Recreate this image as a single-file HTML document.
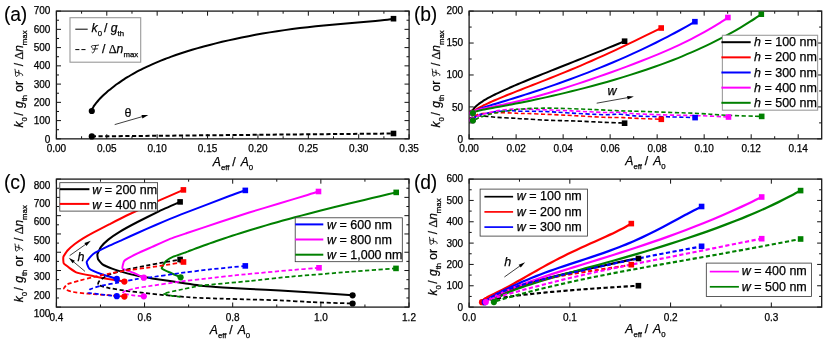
<!DOCTYPE html>
<html><head><meta charset="utf-8"><title>chart</title>
<style>html,body{margin:0;padding:0;background:#fff;}svg{display:block;will-change:transform;}text{font-family:"Liberation Sans",sans-serif;fill:#000;stroke:#000;stroke-width:0.25px;}</style></head><body>
<svg width="830" height="343" viewBox="0 0 830 343">
<rect width="830" height="343" fill="#fff"/>
<path d="M56.4,138.85 v-4.6 M56.4,11.1 v4.6 M106.79,138.85 v-4.6 M106.79,11.1 v4.6 M157.17,138.85 v-4.6 M157.17,11.1 v4.6 M207.56,138.85 v-4.6 M207.56,11.1 v4.6 M257.94,138.85 v-4.6 M257.94,11.1 v4.6 M308.33,138.85 v-4.6 M308.33,11.1 v4.6 M358.71,138.85 v-4.6 M358.71,11.1 v4.6 M409.1,138.85 v-4.6 M409.1,11.1 v4.6 M81.59,138.85 v-2.6 M81.59,11.1 v2.6 M131.98,138.85 v-2.6 M131.98,11.1 v2.6 M182.36,138.85 v-2.6 M182.36,11.1 v2.6 M232.75,138.85 v-2.6 M232.75,11.1 v2.6 M283.14,138.85 v-2.6 M283.14,11.1 v2.6 M333.52,138.85 v-2.6 M333.52,11.1 v2.6 M383.91,138.85 v-2.6 M383.91,11.1 v2.6 M56.4,138.85 h4.6 M409.1,138.85 h-4.6 M56.4,120.6 h4.6 M409.1,120.6 h-4.6 M56.4,102.35 h4.6 M409.1,102.35 h-4.6 M56.4,84.1 h4.6 M409.1,84.1 h-4.6 M56.4,65.85 h4.6 M409.1,65.85 h-4.6 M56.4,47.6 h4.6 M409.1,47.6 h-4.6 M56.4,29.35 h4.6 M409.1,29.35 h-4.6 M56.4,11.1 h4.6 M409.1,11.1 h-4.6 M56.4,129.72 h2.6 M409.1,129.72 h-2.6 M56.4,111.47 h2.6 M409.1,111.47 h-2.6 M56.4,93.22 h2.6 M409.1,93.22 h-2.6 M56.4,74.97 h2.6 M409.1,74.97 h-2.6 M56.4,56.72 h2.6 M409.1,56.72 h-2.6 M56.4,38.47 h2.6 M409.1,38.47 h-2.6 M56.4,20.22 h2.6 M409.1,20.22 h-2.6" stroke="#111" stroke-width="1" fill="none"/>
<rect x="56.4" y="11.1" width="352.7" height="127.75" fill="none" stroke="#1a1a1a" stroke-width="1.3"/>
<text x="56.4" y="151.95" font-size="10" text-anchor="middle">0.00</text>
<text x="106.79" y="151.95" font-size="10" text-anchor="middle">0.05</text>
<text x="157.17" y="151.95" font-size="10" text-anchor="middle">0.10</text>
<text x="207.56" y="151.95" font-size="10" text-anchor="middle">0.15</text>
<text x="257.94" y="151.95" font-size="10" text-anchor="middle">0.20</text>
<text x="308.33" y="151.95" font-size="10" text-anchor="middle">0.25</text>
<text x="358.71" y="151.95" font-size="10" text-anchor="middle">0.30</text>
<text x="409.1" y="151.95" font-size="10" text-anchor="middle">0.35</text>
<text x="50.4" y="142.55" font-size="10" text-anchor="end">0</text>
<text x="50.4" y="124.24" font-size="10" text-anchor="end">100</text>
<text x="50.4" y="105.92" font-size="10" text-anchor="end">200</text>
<text x="50.4" y="87.61" font-size="10" text-anchor="end">300</text>
<text x="50.4" y="69.29" font-size="10" text-anchor="end">400</text>
<text x="50.4" y="50.98" font-size="10" text-anchor="end">500</text>
<text x="50.4" y="32.66" font-size="10" text-anchor="end">600</text>
<text x="50.4" y="14.35" font-size="10" text-anchor="end">700</text>
<path d="M91.8,111 C91.83,110.8 91.88,110.21 92,109.8 C92.11,109.39 92.28,108.98 92.48,108.53 C92.69,108.09 92.93,107.63 93.22,107.15 C93.5,106.66 93.82,106.16 94.18,105.64 C94.53,105.12 94.92,104.57 95.35,104.02 C95.78,103.46 96.24,102.88 96.73,102.29 C97.22,101.7 97.75,101.09 98.3,100.47 C98.86,99.85 99.45,99.21 100.07,98.57 C100.69,97.92 101.34,97.26 102.03,96.59 C102.71,95.92 103.42,95.24 104.16,94.55 C104.9,93.86 105.67,93.16 106.47,92.46 C107.27,91.75 108.1,91.04 108.96,90.33 C109.82,89.61 110.71,88.89 111.62,88.16 C112.54,87.44 113.48,86.71 114.45,85.97 C115.42,85.24 116.42,84.51 117.45,83.78 C118.47,83.04 119.52,82.31 120.6,81.57 C121.68,80.84 122.79,80.1 123.93,79.37 C125.06,78.64 126.22,77.91 127.41,77.18 C128.59,76.45 129.81,75.73 131.05,75.01 C132.29,74.29 133.55,73.57 134.84,72.86 C136.13,72.14 137.45,71.44 138.79,70.73 C140.14,70.03 141.5,69.33 142.9,68.64 C144.29,67.95 145.71,67.26 147.15,66.58 C148.6,65.9 150.07,65.22 151.56,64.56 C153.06,63.89 154.57,63.23 156.12,62.57 C157.66,61.92 159.23,61.27 160.82,60.63 C162.42,59.99 164.03,59.35 165.67,58.72 C167.32,58.1 168.98,57.47 170.67,56.86 C172.36,56.25 174.08,55.64 175.82,55.04 C177.55,54.44 179.32,53.84 181.1,53.25 C182.89,52.67 184.7,52.08 186.53,51.51 C188.36,50.93 190.22,50.37 192.1,49.8 C193.98,49.24 195.89,48.69 197.81,48.14 C199.74,47.59 201.69,47.04 203.67,46.51 C205.64,45.97 207.64,45.44 209.66,44.91 C211.68,44.39 213.72,43.87 215.79,43.36 C217.86,42.84 219.95,42.34 222.06,41.84 C224.17,41.34 226.31,40.84 228.46,40.36 C230.62,39.87 232.8,39.39 235,38.91 C237.21,38.44 239.43,37.97 241.68,37.51 C243.93,37.05 246.2,36.6 248.49,36.16 C250.79,35.71 253.1,35.27 255.44,34.84 C257.78,34.42 260.14,33.99 262.52,33.58 C264.9,33.17 267.31,32.77 269.73,32.37 C272.16,31.98 274.61,31.59 277.08,31.22 C279.55,30.84 282.04,30.48 284.56,30.12 C287.07,29.77 289.61,29.42 292.16,29.09 C294.72,28.75 297.3,28.43 299.9,28.11 C302.5,27.8 305.13,27.49 307.77,27.2 C310.42,26.91 313.08,26.62 315.77,26.35 C318.46,26.07 321.17,25.81 323.9,25.55 C326.63,25.29 329.38,25.04 332.15,24.79 C334.93,24.54 337.72,24.31 340.54,24.07 C343.35,23.83 346.19,23.59 349.05,23.35 C351.91,23.11 354.78,22.88 357.69,22.62 C360.59,22.37 363.51,22.12 366.45,21.85 C369.39,21.57 372.36,21.29 375.34,20.97 C378.33,20.66 381.33,20.33 384.36,19.95 C387.38,19.57 391.98,18.91 393.5,18.7" fill="none" stroke="#000000" stroke-width="2" stroke-linejoin="round"/>
<path d="M91.8,136.4 L393.5,133.5" fill="none" stroke="#000000" stroke-width="2" stroke-linejoin="round" stroke-dasharray="4.2 2.5" stroke-dashoffset="0"/>
<circle cx="91.8" cy="111" r="3.1" fill="#000000"/>
<circle cx="91.8" cy="136.4" r="3.1" fill="#000000"/>
<rect x="390.7" y="15.9" width="5.6" height="5.6" fill="#000000"/>
<rect x="390.7" y="130.7" width="5.6" height="5.6" fill="#000000"/>
<path d="M114.7,124.6 L142.92,116.45" stroke="#000" stroke-width="0.75"/>
<path d="M148.3,114.9 L142.44,118.41 L141.47,115.05 Z" fill="#000"/>
<text x="128.1" y="116.6" font-size="12.5" font-family="Liberation Serif" text-anchor="middle" style="stroke-width:0.1px">&#952;</text>
<rect x="70" y="17.7" width="70.7" height="44.5" fill="#fff" stroke="#999" stroke-width="1.1"/>
<path d="M75.3,29.2 H87.7" stroke="#000" stroke-width="1"/>
<path d="M75.3,49.6 H79.4 M81.4,49.6 H85.5" stroke="#000" stroke-width="1"/>
<text x="91.6" y="32.2" font-size="12.2" xml:space="preserve"><tspan font-style="italic">k</tspan><tspan font-size="7.8" dy="4.0">0</tspan><tspan dy="-4.0" font-size="1">&#8203;</tspan><tspan dx="-1.5"> /</tspan> <tspan font-style="italic">g</tspan><tspan font-size="7.8" dy="4.0">th</tspan><tspan dy="-4.0" font-size="1">&#8203;</tspan></text>
<path transform="translate(90.6,52.9) rotate(0) scale(1.0)" d="M1.7,-4.9 C0.5,-5.5 0.3,-6.9 1.7,-7.2 C3.0,-7.5 5.5,-7.1 8.0,-7.8 M5.1,-7.2 C4.8,-5.4 4.0,-2.4 3.2,-0.9 C2.7,0.1 1.8,0.3 1.3,-0.4 M2.2,-3.7 L6.9,-4.1" fill="none" stroke="#000" stroke-width="0.85" stroke-linecap="round"/>
<text x="98.6" y="52.8" font-size="12.2" xml:space="preserve"> / <tspan font-family="Liberation Serif">&#916;</tspan><tspan font-style="italic">n</tspan><tspan font-size="7.8" dy="4.0">max</tspan><tspan dy="-4.0" font-size="1">&#8203;</tspan></text>
<g transform="translate(22.8,127.6) rotate(-90)">
<text x="0" y="0" font-size="12.0" xml:space="preserve"><tspan font-style="italic">k</tspan><tspan font-size="7.8" dy="4.0">0</tspan><tspan dy="-4.0" font-size="1">&#8203;</tspan><tspan dx="-1.8"> /</tspan> <tspan font-style="italic" dx="1.0">g</tspan><tspan font-size="7.8" dy="4.0">th</tspan><tspan dy="-4.0" font-size="1">&#8203;</tspan><tspan dx="-0.2"> or </tspan></text>
<path transform="translate(50.4,0) rotate(0) scale(1.0)" d="M1.7,-4.9 C0.5,-5.5 0.3,-6.9 1.7,-7.2 C3.0,-7.5 5.5,-7.1 8.0,-7.8 M5.1,-7.2 C4.8,-5.4 4.0,-2.4 3.2,-0.9 C2.7,0.1 1.8,0.3 1.3,-0.4 M2.2,-3.7 L6.9,-4.1" fill="none" stroke="#000" stroke-width="0.85" stroke-linecap="round"/>
<text x="58" y="0" font-size="12.0" xml:space="preserve"> / <tspan font-family="Liberation Serif">&#916;</tspan><tspan font-style="italic">n</tspan><tspan font-size="7.8" dy="4.0">max</tspan><tspan dy="-4.0" font-size="1">&#8203;</tspan></text>
</g>
<text x="233" y="165.6" font-size="12.2" text-anchor="middle" xml:space="preserve"><tspan font-style="italic">A</tspan><tspan font-size="7.8" dy="4.0">eff</tspan><tspan dy="-4.0" font-size="1">&#8203;</tspan><tspan dx="-0.6"> /</tspan> <tspan font-style="italic" dx="1.6">A</tspan><tspan font-size="7.8" dy="4.0">0</tspan><tspan dy="-4.0" font-size="1">&#8203;</tspan></text>
<text x="4" y="20.9" font-size="19.3" letter-spacing="-0.15" style="stroke-width:0.12px">(a)</text>
<path d="M469.1,138.85 v-4.6 M469.1,11.1 v4.6 M516.11,138.85 v-4.6 M516.11,11.1 v4.6 M563.13,138.85 v-4.6 M563.13,11.1 v4.6 M610.14,138.85 v-4.6 M610.14,11.1 v4.6 M657.15,138.85 v-4.6 M657.15,11.1 v4.6 M704.17,138.85 v-4.6 M704.17,11.1 v4.6 M751.18,138.85 v-4.6 M751.18,11.1 v4.6 M798.19,138.85 v-4.6 M798.19,11.1 v4.6 M492.61,138.85 v-2.6 M492.61,11.1 v2.6 M539.62,138.85 v-2.6 M539.62,11.1 v2.6 M586.63,138.85 v-2.6 M586.63,11.1 v2.6 M633.65,138.85 v-2.6 M633.65,11.1 v2.6 M680.66,138.85 v-2.6 M680.66,11.1 v2.6 M727.67,138.85 v-2.6 M727.67,11.1 v2.6 M774.69,138.85 v-2.6 M774.69,11.1 v2.6 M469.1,138.85 h4.6 M821.7,138.85 h-4.6 M469.1,106.91 h4.6 M821.7,106.91 h-4.6 M469.1,74.97 h4.6 M821.7,74.97 h-4.6 M469.1,43.04 h4.6 M821.7,43.04 h-4.6 M469.1,11.1 h4.6 M821.7,11.1 h-4.6 M469.1,122.88 h2.6 M821.7,122.88 h-2.6 M469.1,90.94 h2.6 M821.7,90.94 h-2.6 M469.1,59.01 h2.6 M821.7,59.01 h-2.6 M469.1,27.07 h2.6 M821.7,27.07 h-2.6" stroke="#111" stroke-width="1" fill="none"/>
<rect x="469.1" y="11.1" width="352.6" height="127.75" fill="none" stroke="#1a1a1a" stroke-width="1.3"/>
<text x="469.1" y="151.95" font-size="10" text-anchor="middle">0.00</text>
<text x="516.11" y="151.95" font-size="10" text-anchor="middle">0.02</text>
<text x="563.13" y="151.95" font-size="10" text-anchor="middle">0.04</text>
<text x="610.14" y="151.95" font-size="10" text-anchor="middle">0.06</text>
<text x="657.15" y="151.95" font-size="10" text-anchor="middle">0.08</text>
<text x="704.17" y="151.95" font-size="10" text-anchor="middle">0.10</text>
<text x="751.18" y="151.95" font-size="10" text-anchor="middle">0.12</text>
<text x="798.19" y="151.95" font-size="10" text-anchor="middle">0.14</text>
<text x="463.1" y="142.55" font-size="10" text-anchor="end">0</text>
<text x="463.1" y="110.5" font-size="10" text-anchor="end">50</text>
<text x="463.1" y="78.45" font-size="10" text-anchor="end">100</text>
<text x="463.1" y="46.4" font-size="10" text-anchor="end">150</text>
<text x="463.1" y="14.35" font-size="10" text-anchor="end">200</text>
<path d="M472.3,112.5 C472.32,112.31 472.36,111.74 472.44,111.39 C472.52,111.03 472.64,110.72 472.78,110.39 C472.92,110.05 473.1,109.73 473.3,109.4 C473.5,109.08 473.72,108.75 473.98,108.42 C474.23,108.09 474.5,107.77 474.8,107.44 C475.1,107.11 475.43,106.78 475.78,106.44 C476.12,106.11 476.49,105.78 476.89,105.44 C477.28,105.1 477.7,104.76 478.13,104.42 C478.57,104.08 479.03,103.73 479.51,103.39 C479.99,103.04 480.49,102.69 481.02,102.34 C481.54,101.99 482.08,101.63 482.65,101.28 C483.21,100.92 483.8,100.56 484.4,100.2 C485.01,99.83 485.63,99.47 486.28,99.1 C486.92,98.73 487.59,98.35 488.27,97.98 C488.96,97.6 489.66,97.22 490.38,96.84 C491.11,96.46 491.85,96.08 492.61,95.69 C493.37,95.3 494.16,94.91 494.95,94.51 C495.75,94.11 496.57,93.71 497.41,93.31 C498.25,92.91 499.1,92.5 499.98,92.09 C500.85,91.68 501.74,91.27 502.65,90.85 C503.56,90.43 504.49,90.01 505.44,89.58 C506.39,89.16 507.35,88.73 508.33,88.29 C509.32,87.86 510.32,87.42 511.34,86.98 C512.35,86.54 513.39,86.09 514.44,85.64 C515.5,85.19 516.57,84.73 517.66,84.27 C518.74,83.81 519.85,83.35 520.97,82.88 C522.1,82.41 523.24,81.94 524.4,81.46 C525.55,80.98 526.73,80.5 527.92,80.01 C529.11,79.52 530.32,79.03 531.55,78.53 C532.77,78.03 534.02,77.53 535.27,77.02 C536.53,76.52 537.81,76 539.1,75.48 C540.4,74.96 541.71,74.44 543.03,73.91 C544.36,73.38 545.7,72.85 547.06,72.31 C548.42,71.76 549.8,71.22 551.19,70.67 C552.58,70.11 553.99,69.56 555.41,68.99 C556.84,68.43 558.28,67.86 559.74,67.28 C561.19,66.7 562.67,66.12 564.16,65.53 C565.65,64.94 567.15,64.35 568.67,63.74 C570.2,63.14 571.73,62.53 573.29,61.92 C574.84,61.3 576.41,60.68 578,60.05 C579.58,59.42 581.18,58.78 582.8,58.14 C584.42,57.5 586.05,56.85 587.7,56.19 C589.35,55.53 591.01,54.86 592.69,54.19 C594.37,53.52 596.07,52.84 597.78,52.15 C599.49,51.46 601.21,50.76 602.96,50.06 C604.7,49.35 606.46,48.64 608.23,47.92 C610,47.2 611.79,46.47 613.59,45.73 C615.4,44.99 617.22,44.25 619.05,43.49 C620.89,42.74 623.68,41.58 624.6,41.2" fill="none" stroke="#000000" stroke-width="2" stroke-linejoin="round"/>
<path d="M472.4,112.8 C472.43,112.71 472.47,112.46 472.57,112.29 C472.67,112.11 472.82,111.94 473,111.75 C473.17,111.56 473.39,111.36 473.64,111.16 C473.88,110.95 474.17,110.74 474.48,110.51 C474.79,110.29 475.13,110.05 475.5,109.81 C475.88,109.57 476.28,109.32 476.71,109.06 C477.14,108.8 477.6,108.54 478.09,108.26 C478.57,107.99 479.09,107.71 479.63,107.42 C480.17,107.13 480.74,106.83 481.34,106.52 C481.93,106.22 482.56,105.9 483.21,105.58 C483.85,105.26 484.53,104.94 485.23,104.6 C485.93,104.27 486.65,103.93 487.4,103.58 C488.15,103.23 488.93,102.88 489.73,102.51 C490.53,102.15 491.35,101.78 492.2,101.41 C493.05,101.03 493.92,100.65 494.82,100.27 C495.72,99.88 496.64,99.48 497.58,99.08 C498.52,98.68 499.49,98.28 500.48,97.86 C501.47,97.45 502.49,97.03 503.53,96.6 C504.56,96.18 505.63,95.74 506.71,95.3 C507.79,94.86 508.9,94.42 510.03,93.96 C511.16,93.51 512.31,93.05 513.48,92.58 C514.65,92.12 515.85,91.64 517.07,91.16 C518.29,90.68 519.53,90.19 520.79,89.7 C522.05,89.2 523.34,88.7 524.64,88.19 C525.95,87.67 527.28,87.16 528.63,86.63 C529.98,86.1 531.35,85.57 532.74,85.02 C534.13,84.48 535.55,83.92 536.98,83.36 C538.42,82.8 539.87,82.23 541.35,81.65 C542.83,81.06 544.33,80.47 545.85,79.87 C547.37,79.27 548.91,78.66 550.47,78.04 C552.03,77.42 553.61,76.78 555.21,76.14 C556.82,75.49 558.44,74.84 560.08,74.17 C561.73,73.5 563.39,72.82 565.08,72.13 C566.76,71.44 568.47,70.73 570.19,70.02 C571.92,69.3 573.67,68.57 575.43,67.82 C577.2,67.08 578.98,66.32 580.79,65.55 C582.6,64.77 584.42,63.99 586.27,63.19 C588.12,62.39 589.98,61.57 591.87,60.74 C593.76,59.91 595.66,59.06 597.59,58.2 C599.51,57.34 601.46,56.47 603.43,55.58 C605.39,54.69 607.38,53.78 609.38,52.86 C611.39,51.94 613.41,51 615.45,50.05 C617.5,49.09 619.56,48.13 621.64,47.14 C623.72,46.16 625.83,45.16 627.95,44.15 C630.07,43.14 632.21,42.11 634.37,41.07 C636.53,40.03 638.71,38.98 640.91,37.91 C643.1,36.84 645.32,35.76 647.56,34.67 C649.79,33.58 652.05,32.48 654.32,31.37 C656.6,30.25 660.05,28.56 661.2,28" fill="none" stroke="#ff0000" stroke-width="2" stroke-linejoin="round"/>
<path d="M472.6,113 C472.63,112.91 472.68,112.63 472.8,112.46 C472.92,112.28 473.09,112.12 473.3,111.94 C473.51,111.77 473.77,111.59 474.06,111.41 C474.35,111.23 474.68,111.05 475.05,110.87 C475.41,110.68 475.82,110.49 476.25,110.29 C476.69,110.1 477.17,109.9 477.67,109.69 C478.18,109.49 478.72,109.28 479.3,109.07 C479.87,108.85 480.48,108.63 481.11,108.41 C481.75,108.18 482.42,107.95 483.13,107.72 C483.83,107.48 484.56,107.24 485.32,106.99 C486.09,106.74 486.88,106.49 487.7,106.22 C488.53,105.96 489.38,105.7 490.26,105.42 C491.15,105.14 492.06,104.86 493,104.57 C493.94,104.28 494.91,103.99 495.91,103.68 C496.91,103.38 497.94,103.06 499,102.74 C500.05,102.42 501.14,102.09 502.25,101.75 C503.36,101.42 504.5,101.07 505.67,100.71 C506.83,100.36 508.03,99.99 509.25,99.62 C510.47,99.25 511.72,98.86 513,98.47 C514.27,98.07 515.57,97.67 516.9,97.26 C518.23,96.84 519.59,96.42 520.97,95.98 C522.35,95.55 523.76,95.1 525.2,94.65 C526.63,94.19 528.09,93.72 529.58,93.24 C531.06,92.76 532.58,92.27 534.11,91.77 C535.65,91.26 537.21,90.75 538.8,90.22 C540.39,89.69 542.01,89.15 543.65,88.6 C545.29,88.05 546.95,87.48 548.64,86.9 C550.33,86.32 552.04,85.73 553.78,85.12 C555.52,84.52 557.29,83.9 559.08,83.26 C560.87,82.63 562.68,81.98 564.52,81.31 C566.36,80.65 568.22,79.97 570.11,79.28 C571.99,78.58 573.91,77.87 575.84,77.15 C577.78,76.42 579.74,75.68 581.72,74.92 C583.71,74.16 585.71,73.39 587.75,72.6 C589.78,71.81 591.83,71 593.91,70.17 C595.99,69.34 598.1,68.5 600.22,67.63 C602.35,66.77 604.5,65.89 606.68,64.98 C608.85,64.08 611.05,63.16 613.27,62.22 C615.49,61.27 617.73,60.31 620,59.32 C622.27,58.34 624.56,57.33 626.87,56.3 C629.19,55.27 631.53,54.22 633.89,53.14 C636.25,52.06 638.63,50.96 641.04,49.83 C643.44,48.7 645.87,47.55 648.32,46.37 C650.78,45.19 653.25,43.98 655.75,42.74 C658.25,41.5 660.77,40.24 663.31,38.94 C665.85,37.64 668.42,36.31 671,34.94 C673.59,33.58 676.2,32.19 678.84,30.75 C681.47,29.32 684.12,27.85 686.8,26.34 C689.48,24.83 693.55,22.47 694.9,21.7" fill="none" stroke="#0000ff" stroke-width="2" stroke-linejoin="round"/>
<path d="M472.7,113 C472.74,112.87 472.8,112.47 472.93,112.24 C473.07,112.01 473.27,111.82 473.51,111.62 C473.75,111.43 474.04,111.25 474.37,111.07 C474.71,110.89 475.09,110.72 475.51,110.55 C475.93,110.39 476.39,110.23 476.89,110.07 C477.4,109.91 477.94,109.75 478.52,109.6 C479.11,109.44 479.73,109.29 480.39,109.14 C481.04,108.98 481.74,108.83 482.47,108.67 C483.21,108.52 483.98,108.36 484.78,108.2 C485.59,108.04 486.43,107.87 487.31,107.7 C488.18,107.53 489.09,107.36 490.04,107.18 C490.98,107 491.97,106.81 492.98,106.62 C493.99,106.42 495.04,106.22 496.12,106.01 C497.2,105.8 498.32,105.58 499.46,105.35 C500.61,105.12 501.79,104.88 503,104.62 C504.22,104.37 505.46,104.11 506.74,103.84 C508.01,103.56 509.32,103.27 510.66,102.97 C512,102.67 513.37,102.36 514.77,102.03 C516.18,101.7 517.61,101.36 519.08,101.01 C520.54,100.65 522.03,100.28 523.56,99.9 C525.09,99.51 526.64,99.11 528.23,98.69 C529.82,98.28 531.43,97.85 533.08,97.4 C534.73,96.95 536.4,96.49 538.11,96.01 C539.82,95.53 541.55,95.04 543.32,94.53 C545.08,94.01 546.88,93.49 548.7,92.95 C550.53,92.4 552.38,91.84 554.26,91.27 C556.14,90.69 558.05,90.1 559.99,89.5 C561.93,88.89 563.9,88.27 565.9,87.63 C567.9,86.99 569.92,86.34 571.98,85.67 C574.03,85 576.11,84.32 578.22,83.62 C580.33,82.92 582.47,82.2 584.64,81.47 C586.8,80.74 589,79.99 591.22,79.23 C593.44,78.47 595.69,77.69 597.97,76.9 C600.25,76.11 602.55,75.3 604.89,74.48 C607.22,73.65 609.58,72.81 611.97,71.95 C614.36,71.09 616.77,70.22 619.21,69.33 C621.65,68.43 624.12,67.52 626.62,66.59 C629.11,65.66 631.64,64.71 634.19,63.74 C636.74,62.77 639.31,61.77 641.92,60.75 C644.52,59.73 647.15,58.69 649.81,57.62 C652.46,56.55 655.15,55.45 657.86,54.32 C660.57,53.19 663.3,52.03 666.06,50.83 C668.83,49.62 671.62,48.39 674.43,47.11 C677.25,45.82 680.09,44.5 682.95,43.13 C685.82,41.75 688.71,40.33 691.63,38.84 C694.55,37.36 697.5,35.82 700.47,34.2 C703.44,32.59 706.44,30.91 709.46,29.15 C712.48,27.38 715.53,25.55 718.6,23.6 C721.68,21.66 726.35,18.52 727.9,17.5" fill="none" stroke="#ff00ff" stroke-width="2" stroke-linejoin="round"/>
<path d="M472.9,113.05 C472.94,112.97 473.01,112.73 473.16,112.59 C473.31,112.44 473.54,112.31 473.81,112.17 C474.08,112.03 474.41,111.89 474.79,111.75 C475.17,111.62 475.6,111.48 476.07,111.34 C476.55,111.2 477.07,111.05 477.64,110.91 C478.21,110.76 478.82,110.62 479.48,110.47 C480.14,110.32 480.84,110.17 481.59,110.01 C482.33,109.85 483.12,109.69 483.95,109.53 C484.77,109.36 485.64,109.2 486.55,109.02 C487.46,108.85 488.42,108.67 489.41,108.49 C490.4,108.3 491.43,108.11 492.5,107.92 C493.56,107.72 494.67,107.52 495.82,107.31 C496.96,107.1 498.15,106.88 499.37,106.66 C500.59,106.44 501.85,106.21 503.15,105.97 C504.44,105.73 505.78,105.48 507.15,105.22 C508.52,104.97 509.92,104.7 511.36,104.43 C512.81,104.15 514.29,103.87 515.8,103.58 C517.31,103.28 518.86,102.98 520.45,102.67 C522.03,102.35 523.65,102.03 525.31,101.7 C526.96,101.36 528.65,101.01 530.38,100.66 C532.1,100.3 533.86,99.93 535.65,99.55 C537.45,99.17 539.27,98.78 541.13,98.37 C543,97.97 544.89,97.55 546.82,97.12 C548.75,96.69 550.71,96.24 552.7,95.79 C554.7,95.33 556.73,94.86 558.79,94.38 C560.85,93.89 562.94,93.39 565.07,92.88 C567.2,92.37 569.36,91.84 571.55,91.3 C573.74,90.75 575.97,90.2 578.22,89.62 C580.48,89.05 582.77,88.46 585.09,87.85 C587.41,87.25 589.77,86.62 592.15,85.98 C594.54,85.34 596.95,84.68 599.4,84.01 C601.85,83.33 604.33,82.63 606.84,81.92 C609.35,81.2 611.89,80.47 614.47,79.71 C617.04,78.95 619.65,78.18 622.28,77.37 C624.92,76.57 627.59,75.75 630.29,74.9 C632.98,74.05 635.71,73.17 638.47,72.27 C641.23,71.37 644.02,70.44 646.84,69.48 C649.66,68.52 652.51,67.53 655.4,66.51 C658.28,65.49 661.19,64.44 664.13,63.34 C667.07,62.25 670.05,61.12 673.05,59.95 C676.05,58.78 679.08,57.58 682.14,56.32 C685.21,55.06 688.3,53.77 691.42,52.42 C694.54,51.06 697.69,49.67 700.87,48.21 C704.06,46.75 707.27,45.24 710.51,43.66 C713.75,42.08 717.02,40.44 720.31,38.73 C723.61,37.01 726.94,35.24 730.3,33.37 C733.66,31.51 737.04,29.57 740.46,27.54 C743.87,25.5 747.32,23.39 750.79,21.17 C754.27,18.95 759.55,15.36 761.3,14.2" fill="none" stroke="#008000" stroke-width="2" stroke-linejoin="round"/>
<path d="M472.2,119.6 C472.83,119.03 474.58,116.82 476,116.2 C477.42,115.58 477.28,115.72 480.7,115.9 C484.12,116.08 491.25,116.93 496.5,117.3 C501.75,117.67 508.28,117.87 512.2,118.1 C516.12,118.33 517.37,118.55 520,118.7 C522.63,118.85 524.05,118.77 528,119 C531.95,119.23 538.47,119.83 543.7,120.1 C548.93,120.37 554.15,120.45 559.4,120.6 C564.65,120.75 567.8,120.72 575.2,121 C582.6,121.28 596.33,121.98 603.8,122.3 C611.27,122.62 616.53,122.75 620,122.9 C623.47,123.05 623.83,123.15 624.6,123.2" fill="none" stroke="#000000" stroke-width="1.6" stroke-linejoin="round" stroke-dasharray="4.2 2.5" stroke-dashoffset="0"/>
<path d="M472.4,119.8 C473,119.08 474.62,116.5 476,115.5 C477.38,114.5 477.28,114.27 480.7,113.8 C484.12,113.33 491.25,112.83 496.5,112.7 C501.75,112.57 508.28,112.87 512.2,113 C516.12,113.13 517.37,113.42 520,113.5 C522.63,113.58 524.05,113.38 528,113.5 C531.95,113.62 538.47,113.97 543.7,114.2 C548.93,114.43 554.15,114.65 559.4,114.9 C564.65,115.15 567.8,115.3 575.2,115.7 C582.6,116.1 596.33,117 603.8,117.3 C611.27,117.6 614.37,117.32 620,117.5 C625.63,117.68 630.72,118.1 637.6,118.4 C644.48,118.7 657.35,119.15 661.3,119.3" fill="none" stroke="#ff0000" stroke-width="1.6" stroke-linejoin="round" stroke-dasharray="4.2 2.5" stroke-dashoffset="2.7"/>
<path d="M472.6,120 C473.17,119.42 474.65,117.43 476,116.5 C477.35,115.57 477.28,115.22 480.7,114.4 C484.12,113.58 491.25,112.22 496.5,111.6 C501.75,110.98 508.28,110.77 512.2,110.7 C516.12,110.63 514.75,111.07 520,111.2 C525.25,111.33 535.37,111.2 543.7,111.5 C552.03,111.8 559.98,112.47 570,113 C580.02,113.53 595.47,114.5 603.8,114.7 C612.13,114.9 614.37,113.97 620,114.2 C625.63,114.43 629.03,115.65 637.6,116.1 C646.17,116.55 661.82,116.65 671.4,116.9 C680.98,117.15 691.15,117.48 695.1,117.6" fill="none" stroke="#0000ff" stroke-width="1.6" stroke-linejoin="round" stroke-dasharray="4.2 2.5" stroke-dashoffset="5.4"/>
<path d="M472.7,120.3 C473.25,119.78 474.67,118.1 476,117.2 C477.33,116.3 477.28,115.95 480.7,114.9 C484.12,113.85 491.25,111.87 496.5,110.9 C501.75,109.93 508.28,109.35 512.2,109.1 C516.12,108.85 517.37,109.38 520,109.4 C522.63,109.42 519.67,108.97 528,109.2 C536.33,109.43 557.37,110.25 570,110.8 C582.63,111.35 595.47,112.25 603.8,112.5 C612.13,112.75 614.37,112.07 620,112.3 C625.63,112.53 629.03,113.43 637.6,113.9 C646.17,114.37 661,114.8 671.4,115.1 C681.8,115.4 690.48,115.38 700,115.7 C709.52,116.02 723.75,116.78 728.5,117" fill="none" stroke="#ff00ff" stroke-width="1.6" stroke-linejoin="round" stroke-dasharray="4.2 2.5" stroke-dashoffset="8.1"/>
<path d="M472.9,120.6 C473.5,120.33 475.38,119.52 476.5,119 C477.62,118.48 477.87,118.17 479.6,117.5 C481.33,116.83 484.47,115.73 486.9,115 C489.33,114.27 491.77,113.65 494.2,113.1 C496.63,112.55 499.07,112.12 501.5,111.7 C503.93,111.28 506.37,110.97 508.8,110.6 C511.23,110.23 513.4,109.82 516.1,109.5 C518.8,109.18 521.02,108.92 525,108.7 C528.98,108.48 534.27,108.27 540,108.2 C545.73,108.13 550.23,108.07 559.4,108.3 C568.57,108.53 584.9,109.18 595,109.6 C605.1,110.02 612.9,110.52 620,110.8 C627.1,111.08 629.03,111.02 637.6,111.3 C646.17,111.58 661,112.13 671.4,112.5 C681.8,112.87 690.88,113.03 700,113.5 C709.12,113.97 715.82,114.82 726.1,115.3 C736.38,115.78 755.77,116.22 761.7,116.4" fill="none" stroke="#008000" stroke-width="1.6" stroke-linejoin="round" stroke-dasharray="4.2 2.5" stroke-dashoffset="10.8"/>
<circle cx="472.3" cy="112.5" r="3.1" fill="#000000"/>
<circle cx="472.2" cy="119.6" r="3.1" fill="#000000"/>
<rect x="621.8" y="38.4" width="5.6" height="5.6" fill="#000000"/>
<rect x="621.8" y="120.4" width="5.6" height="5.6" fill="#000000"/>
<circle cx="472.4" cy="112.8" r="3.1" fill="#ff0000"/>
<circle cx="472.4" cy="119.8" r="3.1" fill="#ff0000"/>
<rect x="658.4" y="25.2" width="5.6" height="5.6" fill="#ff0000"/>
<rect x="658.5" y="116.5" width="5.6" height="5.6" fill="#ff0000"/>
<circle cx="472.6" cy="113" r="3.1" fill="#0000ff"/>
<circle cx="472.6" cy="120" r="3.1" fill="#0000ff"/>
<rect x="692.1" y="18.9" width="5.6" height="5.6" fill="#0000ff"/>
<rect x="692.3" y="114.8" width="5.6" height="5.6" fill="#0000ff"/>
<circle cx="472.7" cy="113" r="3.1" fill="#ff00ff"/>
<circle cx="472.7" cy="120.3" r="3.1" fill="#ff00ff"/>
<rect x="725.1" y="14.7" width="5.6" height="5.6" fill="#ff00ff"/>
<rect x="725.7" y="114.2" width="5.6" height="5.6" fill="#ff00ff"/>
<circle cx="472.9" cy="113.05" r="3.1" fill="#008000"/>
<circle cx="472.9" cy="120.6" r="3.1" fill="#008000"/>
<rect x="758.5" y="11.4" width="5.6" height="5.6" fill="#008000"/>
<rect x="758.9" y="113.6" width="5.6" height="5.6" fill="#008000"/>
<path d="M596.7,103.2 L628.39,97.49" stroke="#000" stroke-width="0.75"/>
<path d="M633.9,96.5 L627.71,99.39 L627.09,95.95 Z" fill="#000"/>
<text x="612" y="95.3" font-size="12.5" font-style="italic" text-anchor="middle">w</text>
<rect x="722.4" y="35.3" width="95.2" height="74.9" fill="#fff" stroke="#a0a0a0" stroke-width="1.15"/>
<path d="M721.4,42.2 H750.7" stroke="#000000" stroke-width="2.0"/>
<text x="754" y="46.3" font-size="12.5" xml:space="preserve"><tspan font-style="italic">h</tspan> = 100 nm</text>
<path d="M721.4,57.35 H750.7" stroke="#ff0000" stroke-width="2.0"/>
<text x="754" y="61.45" font-size="12.5" xml:space="preserve"><tspan font-style="italic">h</tspan> = 200 nm</text>
<path d="M721.4,72.5 H750.7" stroke="#0000ff" stroke-width="2.0"/>
<text x="754" y="76.6" font-size="12.5" xml:space="preserve"><tspan font-style="italic">h</tspan> = 300 nm</text>
<path d="M721.4,87.65 H750.7" stroke="#ff00ff" stroke-width="2.0"/>
<text x="754" y="91.75" font-size="12.5" xml:space="preserve"><tspan font-style="italic">h</tspan> = 400 nm</text>
<path d="M721.4,102.8 H750.7" stroke="#008000" stroke-width="2.0"/>
<text x="754" y="106.9" font-size="12.5" xml:space="preserve"><tspan font-style="italic">h</tspan> = 500 nm</text>
<g transform="translate(440,127.4) rotate(-90)">
<text x="0" y="0" font-size="12.0" xml:space="preserve"><tspan font-style="italic">k</tspan><tspan font-size="7.8" dy="4.0">0</tspan><tspan dy="-4.0" font-size="1">&#8203;</tspan><tspan dx="-1.8"> /</tspan> <tspan font-style="italic" dx="1.0">g</tspan><tspan font-size="7.8" dy="4.0">th</tspan><tspan dy="-4.0" font-size="1">&#8203;</tspan><tspan dx="-0.2"> or </tspan></text>
<path transform="translate(50.4,0) rotate(0) scale(1.0)" d="M1.7,-4.9 C0.5,-5.5 0.3,-6.9 1.7,-7.2 C3.0,-7.5 5.5,-7.1 8.0,-7.8 M5.1,-7.2 C4.8,-5.4 4.0,-2.4 3.2,-0.9 C2.7,0.1 1.8,0.3 1.3,-0.4 M2.2,-3.7 L6.9,-4.1" fill="none" stroke="#000" stroke-width="0.85" stroke-linecap="round"/>
<text x="58" y="0" font-size="12.0" xml:space="preserve"> / <tspan font-family="Liberation Serif">&#916;</tspan><tspan font-style="italic">n</tspan><tspan font-size="7.8" dy="4.0">max</tspan><tspan dy="-4.0" font-size="1">&#8203;</tspan></text>
</g>
<text x="645.5" y="164.8" font-size="12.2" text-anchor="middle" xml:space="preserve"><tspan font-style="italic">A</tspan><tspan font-size="7.8" dy="4.0">eff</tspan><tspan dy="-4.0" font-size="1">&#8203;</tspan><tspan dx="-0.6"> /</tspan> <tspan font-style="italic" dx="1.6">A</tspan><tspan font-size="7.8" dy="4.0">0</tspan><tspan dy="-4.0" font-size="1">&#8203;</tspan></text>
<text x="414" y="20.9" font-size="19.3" letter-spacing="-0.15" style="stroke-width:0.12px">(b)</text>
<path d="M56.4,307.1 v-4.6 M56.4,179.1 v4.6 M144.55,307.1 v-4.6 M144.55,179.1 v4.6 M232.7,307.1 v-4.6 M232.7,179.1 v4.6 M320.85,307.1 v-4.6 M320.85,179.1 v4.6 M409,307.1 v-4.6 M409,179.1 v4.6 M100.47,307.1 v-2.6 M100.47,179.1 v2.6 M188.62,307.1 v-2.6 M188.62,179.1 v2.6 M276.78,307.1 v-2.6 M276.78,179.1 v2.6 M364.93,307.1 v-2.6 M364.93,179.1 v2.6 M56.4,307.1 h4.6 M409,307.1 h-4.6 M56.4,288.81 h4.6 M409,288.81 h-4.6 M56.4,270.53 h4.6 M409,270.53 h-4.6 M56.4,252.24 h4.6 M409,252.24 h-4.6 M56.4,233.96 h4.6 M409,233.96 h-4.6 M56.4,215.67 h4.6 M409,215.67 h-4.6 M56.4,197.39 h4.6 M409,197.39 h-4.6 M56.4,179.1 h4.6 M409,179.1 h-4.6 M56.4,297.96 h2.6 M409,297.96 h-2.6 M56.4,279.67 h2.6 M409,279.67 h-2.6 M56.4,261.39 h2.6 M409,261.39 h-2.6 M56.4,243.1 h2.6 M409,243.1 h-2.6 M56.4,224.81 h2.6 M409,224.81 h-2.6 M56.4,206.53 h2.6 M409,206.53 h-2.6 M56.4,188.24 h2.6 M409,188.24 h-2.6" stroke="#111" stroke-width="1" fill="none"/>
<rect x="56.4" y="179.1" width="352.6" height="128" fill="none" stroke="#1a1a1a" stroke-width="1.3"/>
<text x="56.4" y="320.5" font-size="10" text-anchor="middle">0.4</text>
<text x="144.55" y="320.5" font-size="10" text-anchor="middle">0.6</text>
<text x="232.7" y="320.5" font-size="10" text-anchor="middle">0.8</text>
<text x="320.85" y="320.5" font-size="10" text-anchor="middle">1.0</text>
<text x="409" y="320.5" font-size="10" text-anchor="middle">1.2</text>
<text x="50.4" y="317.1" font-size="10" text-anchor="end">100</text>
<text x="50.4" y="298.75" font-size="10" text-anchor="end">200</text>
<text x="50.4" y="280.4" font-size="10" text-anchor="end">300</text>
<text x="50.4" y="262.05" font-size="10" text-anchor="end">400</text>
<text x="50.4" y="243.7" font-size="10" text-anchor="end">500</text>
<text x="50.4" y="225.35" font-size="10" text-anchor="end">600</text>
<text x="50.4" y="207" font-size="10" text-anchor="end">700</text>
<text x="50.4" y="188.65" font-size="10" text-anchor="end">800</text>
<path d="M180.1,201.9 C178.86,202.45 161.96,209.89 159.4,211.1 C156.84,212.31 139.86,220.77 137.5,222 C135.14,223.23 121.75,230.54 120,231.6 C118.25,232.66 109.44,238.68 108.3,239.6 C107.16,240.52 101.65,246.02 101,246.9 C100.35,247.78 97.57,253.46 97.4,254.2 C97.23,254.94 97.79,258.69 98.1,259.3 C98.41,259.91 101.62,263.82 102.5,264.4 C103.38,264.98 111.48,268.44 112.7,268.9 C113.92,269.36 121.41,271.69 122.9,272.1 C124.39,272.51 135.75,275.42 137.5,275.8 C139.25,276.18 150.15,278.09 152.1,278.4 C154.05,278.71 168.37,280.76 170,281 C171.63,281.24 177.17,282.1 179.2,282.4 C181.23,282.7 201.28,285.7 203.9,286 C206.52,286.3 220.13,287.22 222.9,287.4 C225.67,287.58 246.57,288.82 250,289 C253.43,289.18 273.84,290.02 280,290.4 C286.16,290.78 348.24,295.01 352.6,295.3" fill="none" stroke="#000000" stroke-width="2" stroke-linejoin="round"/>
<path d="M183.4,189.9 C181.85,190.58 161.01,199.66 157.6,201.2 C154.19,202.74 129.51,214.11 126.6,215.5 C123.69,216.89 111.07,223.39 109.1,224.4 C107.13,225.41 95.24,231.48 93.7,232.3 C92.16,233.12 84.63,237.4 83.5,238.1 C82.37,238.8 75.76,243.26 74.8,244 C73.84,244.74 68.18,249.73 67.5,250.5 C66.82,251.27 63.62,256.01 63.4,256.8 C63.18,257.59 63.13,262.77 63.9,263.7 C64.67,264.63 74.41,271.55 76.2,272.3 C77.99,273.05 91.77,275.79 93.7,276.2 C95.63,276.61 106.46,278.78 108.3,279.1 C110.14,279.42 123.43,281.45 124.4,281.6" fill="none" stroke="#ff0000" stroke-width="2" stroke-linejoin="round"/>
<path d="M245.3,190.4 C244.38,190.72 233.85,194.36 230,195.8 C226.15,197.24 185.66,212.65 181.2,214.4 C176.74,216.15 158.32,223.88 155.7,225 C153.08,226.12 139.47,232.12 137.5,233 C135.53,233.88 124.65,238.81 122.9,239.6 C121.15,240.39 109.96,245.31 108.3,246.1 C106.64,246.89 96.25,252.08 95.2,252.7 C94.15,253.32 91.31,255.83 90.8,256.4 C90.29,256.97 86.78,261.46 86.7,262.2 C86.62,262.94 88.54,268.09 89.4,268.8 C90.26,269.51 99.36,273.39 101,274 C102.64,274.61 115.85,278.61 116.8,278.9" fill="none" stroke="#0000ff" stroke-width="2" stroke-linejoin="round"/>
<path d="M318.5,191.5 C317.84,191.71 309.91,194.27 307.5,195 C305.09,195.73 281.8,202.65 278.3,203.7 C274.8,204.75 252.7,211.4 249.2,212.5 C245.7,213.6 223.77,220.75 220,222 C216.23,223.25 189.3,232.29 186.3,233.3 C183.3,234.31 172.05,238.08 170,238.9 C167.95,239.72 154.05,246.03 152.1,246.9 C150.15,247.77 139.16,252.57 137.5,253.4 C135.84,254.23 125.3,259.79 124.4,260.7 C123.5,261.61 121.98,267.79 122.5,268.5 C123.02,269.21 131.82,272.05 133.1,272.6 C134.38,273.15 143.16,277.39 143.8,277.7" fill="none" stroke="#ff00ff" stroke-width="2" stroke-linejoin="round"/>
<path d="M396.2,192.39 C395.23,192.62 381.87,195.76 379.96,196.21 C378.05,196.66 366.14,199.47 364.3,199.91 C362.46,200.35 351,203.09 349.22,203.52 C347.45,203.95 336.44,206.64 334.74,207.06 C333.04,207.48 322.48,210.11 320.85,210.52 C319.22,210.94 309.13,213.53 307.57,213.93 C306.01,214.34 296.38,216.89 294.9,217.28 C293.42,217.68 284.26,220.18 282.85,220.57 C281.44,220.97 272.75,223.42 271.42,223.8 C270.09,224.18 261.88,226.58 260.63,226.95 C259.37,227.32 251.66,229.65 250.48,230.01 C249.3,230.37 242.09,232.62 240.99,232.97 C239.89,233.32 233.18,235.47 232.16,235.81 C231.14,236.14 224.95,238.19 224.01,238.5 C223.08,238.82 217.41,240.75 216.56,241.04 C215.71,241.34 210.58,243.13 209.82,243.4 C209.05,243.67 204.48,245.31 203.8,245.55 C203.13,245.79 199.13,247.26 198.54,247.47 C197.96,247.69 194.55,248.96 194.06,249.14 C193.57,249.32 190.79,250.38 190.4,250.52 C190.01,250.67 187.88,251.49 187.6,251.6 C187.32,251.7 185.9,252.25 185.75,252.31 C185.59,252.37 185.75,252.34 185,252.6 C184.25,252.86 174.45,256.18 173.3,256.7 C172.15,257.22 166.5,260.6 165.8,261.3 C165.1,262 161.39,267.6 161.7,268.3 C162.01,269 169.87,272.46 171,273 C172.13,273.54 180.02,277.04 180.6,277.3" fill="none" stroke="#008000" stroke-width="2" stroke-linejoin="round"/>
<path d="M180.1,259.5 C179.12,259.67 165.82,262.01 163.7,262.4 C161.58,262.79 147.07,265.56 144.8,266 C142.53,266.44 127.99,269.17 125.8,269.7 C123.61,270.23 109.87,274.15 108.3,274.8 C106.73,275.45 100.21,279.99 99.6,280.6 C98.99,281.21 97.58,284.56 98.1,285 C98.62,285.44 106.64,287.55 108.3,287.9 C109.96,288.25 123.61,290.49 125.8,290.8 C127.99,291.11 142.47,292.74 144.8,293 C147.13,293.26 161.67,294.82 164.6,295.1 C167.53,295.38 190.2,297.38 193.7,297.6 C197.2,297.82 219.52,298.59 222.9,298.7 C226.28,298.81 246.57,299.4 250,299.5 C253.43,299.6 276.24,300.14 280,300.3 C283.76,300.46 308.24,302.01 312.6,302.2 C316.96,302.39 350.2,303.42 352.6,303.5" fill="none" stroke="#000000" stroke-width="1.75" stroke-linejoin="round" stroke-dasharray="4.2 2.5" stroke-dashoffset="3.3"/>
<path d="M183.5,262 C182.37,262.19 166.61,264.88 164.6,265.2 C162.59,265.52 152.33,267.08 150,267.4 C147.67,267.72 128.3,270.12 125.8,270.5 C123.3,270.88 110.23,273.41 108.3,273.8 C106.37,274.19 95.45,276.59 93.7,277 C91.95,277.41 80.77,280.17 79.2,280.6 C77.63,281.03 68.42,283.72 67.5,284.2 C66.58,284.68 63.64,288.14 63.9,288.6 C64.16,289.06 70.46,291.49 71.9,291.8 C73.34,292.11 85.72,293.5 87.9,293.7 C90.08,293.9 106.11,295.03 108.3,295.2 C110.49,295.37 123.43,296.52 124.4,296.6" fill="none" stroke="#ff0000" stroke-width="1.75" stroke-linejoin="round" stroke-dasharray="4.2 2.5" stroke-dashoffset="0"/>
<path d="M245.3,265.9 C243.08,266.12 212.27,269.16 208.3,269.6 C204.33,270.04 182.7,272.73 179.2,273.2 C175.7,273.67 152.5,277.06 150,277.4 C147.5,277.74 139.49,278.58 137.5,278.9 C135.51,279.22 118.99,282.39 116.8,282.8 C114.61,283.21 102.6,285.31 101,285.7 C99.4,286.09 90.87,288.88 90.1,289.3 C89.33,289.72 87.55,292.39 88.2,292.7 C88.85,293.01 99.28,294.29 101,294.5 C102.72,294.71 115.85,296.1 116.8,296.2" fill="none" stroke="#0000ff" stroke-width="1.75" stroke-linejoin="round" stroke-dasharray="4.2 2.5" stroke-dashoffset="0"/>
<path d="M319,267.8 C317.26,267.94 294.64,269.79 290,270.2 C285.36,270.61 246.5,274.21 241.6,274.7 C236.7,275.19 212.04,277.88 208.3,278.3 C204.56,278.72 182.57,281.26 179.2,281.7 C175.83,282.14 154.6,285.33 152.1,285.7 C149.6,286.07 139.08,287.59 137.5,287.9 C135.92,288.21 126.7,290.48 125.8,290.8 C124.9,291.12 122.15,292.94 122.5,293.2 C122.85,293.46 130.42,295.01 131.7,295.2 C132.98,295.39 143.07,296.23 143.8,296.3" fill="none" stroke="#ff00ff" stroke-width="1.75" stroke-linejoin="round" stroke-dasharray="4.2 2.5" stroke-dashoffset="0"/>
<path d="M396,268.4 C392.96,268.63 351.66,271.7 345.3,272.2 C338.94,272.7 295.72,276.17 290,276.7 C284.28,277.23 255.34,280.47 250,281 C244.66,281.53 205.25,285.06 201,285.6 C196.75,286.14 181.46,289.52 179.2,290 C176.94,290.48 163.84,293.25 163.4,293.6 C162.96,293.95 170.88,295.6 171.9,295.8 C172.92,296 179.89,296.83 180.4,296.9" fill="none" stroke="#008000" stroke-width="1.75" stroke-linejoin="round" stroke-dasharray="4.2 2.5" stroke-dashoffset="0"/>
<rect x="177.3" y="199.1" width="5.6" height="5.6" fill="#000000"/>
<rect x="177.3" y="256.7" width="5.6" height="5.6" fill="#000000"/>
<circle cx="352.6" cy="295.3" r="3.1" fill="#000000"/>
<circle cx="352.6" cy="303.5" r="3.1" fill="#000000"/>
<rect x="180.6" y="187.1" width="5.6" height="5.6" fill="#ff0000"/>
<rect x="180.7" y="259.2" width="5.6" height="5.6" fill="#ff0000"/>
<circle cx="124.4" cy="281.6" r="3.1" fill="#ff0000"/>
<circle cx="124.4" cy="296.6" r="3.1" fill="#ff0000"/>
<rect x="242.5" y="187.6" width="5.6" height="5.6" fill="#0000ff"/>
<rect x="242.5" y="263.1" width="5.6" height="5.6" fill="#0000ff"/>
<circle cx="116.8" cy="278.9" r="3.1" fill="#0000ff"/>
<circle cx="116.8" cy="296.2" r="3.1" fill="#0000ff"/>
<rect x="315.7" y="188.7" width="5.6" height="5.6" fill="#ff00ff"/>
<rect x="316.2" y="265" width="5.6" height="5.6" fill="#ff00ff"/>
<circle cx="143.8" cy="277.7" r="3.1" fill="#ff00ff"/>
<circle cx="143.8" cy="296.3" r="3.1" fill="#ff00ff"/>
<rect x="393.4" y="189.59" width="5.6" height="5.6" fill="#008000"/>
<rect x="393.2" y="265.6" width="5.6" height="5.6" fill="#008000"/>
<circle cx="180.6" cy="277.3" r="3.1" fill="#008000"/>
<path d="M69.7,255.6 L86.23,243.93" stroke="#000" stroke-width="0.75"/>
<path d="M90.8,240.7 L86.42,245.94 L84.4,243.08 Z" fill="#000"/>
<path d="M85,271.4 L73,261.39" stroke="#000" stroke-width="0.75"/>
<path d="M68.7,257.8 L74.89,260.68 L72.65,263.37 Z" fill="#000"/>
<text x="81" y="260.6" font-size="12.5" font-style="italic" text-anchor="middle">h</text>
<rect x="59.8" y="182.7" width="97.8" height="28.4" fill="#fff" stroke="#333" stroke-width="0.8"/>
<path d="M59.8,189.2 H89.4" stroke="#000000" stroke-width="2.0"/>
<text x="92.2" y="193.6" font-size="12.5" xml:space="preserve"><tspan font-style="italic">w</tspan> = 200 nm</text>
<path d="M59.8,203.9 H89.4" stroke="#ff0000" stroke-width="2.0"/>
<text x="92.2" y="208.8" font-size="12.5" xml:space="preserve"><tspan font-style="italic">w</tspan> = 400 nm</text>
<rect x="295.2" y="217.8" width="107.1" height="43.9" fill="#fff" stroke="#333" stroke-width="0.8"/>
<path d="M295.2,224.4 H323.3" stroke="#0000ff" stroke-width="2.0"/>
<text x="327" y="228.6" font-size="12.5" xml:space="preserve"><tspan font-style="italic">w</tspan> = 600 nm</text>
<path d="M295.2,239.5 H323.3" stroke="#ff00ff" stroke-width="2.0"/>
<text x="327" y="243.7" font-size="12.5" xml:space="preserve"><tspan font-style="italic">w</tspan> = 800 nm</text>
<path d="M295.2,254.7 H323.3" stroke="#008000" stroke-width="2.0"/>
<text x="327" y="258.9" font-size="12.5" xml:space="preserve"><tspan font-style="italic">w</tspan> = 1,000 nm</text>
<g transform="translate(22.8,302.3) rotate(-90)">
<text x="0" y="0" font-size="12.0" xml:space="preserve"><tspan font-style="italic">k</tspan><tspan font-size="7.8" dy="4.0">0</tspan><tspan dy="-4.0" font-size="1">&#8203;</tspan><tspan dx="-1.8"> /</tspan> <tspan font-style="italic" dx="1.0">g</tspan><tspan font-size="7.8" dy="4.0">th</tspan><tspan dy="-4.0" font-size="1">&#8203;</tspan><tspan dx="-0.2"> or </tspan></text>
<path transform="translate(50.4,0) rotate(0) scale(1.0)" d="M1.7,-4.9 C0.5,-5.5 0.3,-6.9 1.7,-7.2 C3.0,-7.5 5.5,-7.1 8.0,-7.8 M5.1,-7.2 C4.8,-5.4 4.0,-2.4 3.2,-0.9 C2.7,0.1 1.8,0.3 1.3,-0.4 M2.2,-3.7 L6.9,-4.1" fill="none" stroke="#000" stroke-width="0.85" stroke-linecap="round"/>
<text x="58" y="0" font-size="12.0" xml:space="preserve"> / <tspan font-family="Liberation Serif">&#916;</tspan><tspan font-style="italic">n</tspan><tspan font-size="7.8" dy="4.0">max</tspan><tspan dy="-4.0" font-size="1">&#8203;</tspan></text>
</g>
<text x="230" y="333.8" font-size="12.2" text-anchor="middle" xml:space="preserve"><tspan font-style="italic">A</tspan><tspan font-size="7.8" dy="4.0">eff</tspan><tspan dy="-4.0" font-size="1">&#8203;</tspan><tspan dx="-0.6"> /</tspan> <tspan font-style="italic" dx="1.6">A</tspan><tspan font-size="7.8" dy="4.0">0</tspan><tspan dy="-4.0" font-size="1">&#8203;</tspan></text>
<text x="4" y="189.1" font-size="19.3" letter-spacing="-0.15" style="stroke-width:0.12px">(c)</text>
<path d="M469.1,307.1 v-4.6 M469.1,179.1 v4.6 M569.84,307.1 v-4.6 M569.84,179.1 v4.6 M670.59,307.1 v-4.6 M670.59,179.1 v4.6 M771.33,307.1 v-4.6 M771.33,179.1 v4.6 M519.47,307.1 v-2.6 M519.47,179.1 v2.6 M620.21,307.1 v-2.6 M620.21,179.1 v2.6 M720.96,307.1 v-2.6 M720.96,179.1 v2.6 M469.1,307.1 h4.6 M821.7,307.1 h-4.6 M469.1,285.77 h4.6 M821.7,285.77 h-4.6 M469.1,264.43 h4.6 M821.7,264.43 h-4.6 M469.1,243.1 h4.6 M821.7,243.1 h-4.6 M469.1,221.77 h4.6 M821.7,221.77 h-4.6 M469.1,200.43 h4.6 M821.7,200.43 h-4.6 M469.1,179.1 h4.6 M821.7,179.1 h-4.6 M469.1,296.43 h2.6 M821.7,296.43 h-2.6 M469.1,275.1 h2.6 M821.7,275.1 h-2.6 M469.1,253.77 h2.6 M821.7,253.77 h-2.6 M469.1,232.43 h2.6 M821.7,232.43 h-2.6 M469.1,211.1 h2.6 M821.7,211.1 h-2.6 M469.1,189.77 h2.6 M821.7,189.77 h-2.6" stroke="#111" stroke-width="1" fill="none"/>
<rect x="469.1" y="179.1" width="352.6" height="128" fill="none" stroke="#1a1a1a" stroke-width="1.3"/>
<text x="469.1" y="320.5" font-size="10" text-anchor="middle">0.0</text>
<text x="569.84" y="320.5" font-size="10" text-anchor="middle">0.1</text>
<text x="670.59" y="320.5" font-size="10" text-anchor="middle">0.2</text>
<text x="771.33" y="320.5" font-size="10" text-anchor="middle">0.3</text>
<text x="463.1" y="310.8" font-size="10" text-anchor="end">0</text>
<text x="463.1" y="289.39" font-size="10" text-anchor="end">100</text>
<text x="463.1" y="267.98" font-size="10" text-anchor="end">200</text>
<text x="463.1" y="246.58" font-size="10" text-anchor="end">300</text>
<text x="463.1" y="225.17" font-size="10" text-anchor="end">400</text>
<text x="463.1" y="203.76" font-size="10" text-anchor="end">500</text>
<text x="463.1" y="182.35" font-size="10" text-anchor="end">600</text>
<path d="M484.2,302.2 C484.22,302.13 484.26,301.91 484.34,301.77 C484.42,301.63 484.54,301.5 484.69,301.37 C484.83,301.24 485.01,301.1 485.21,300.97 C485.41,300.83 485.64,300.69 485.9,300.55 C486.15,300.4 486.43,300.26 486.74,300.11 C487.04,299.96 487.37,299.8 487.72,299.64 C488.07,299.49 488.45,299.32 488.85,299.15 C489.25,298.98 489.67,298.81 490.11,298.62 C490.55,298.44 491.02,298.25 491.51,298.06 C491.99,297.86 492.5,297.66 493.03,297.45 C493.56,297.24 494.11,297.02 494.68,296.8 C495.26,296.57 495.85,296.34 496.46,296.1 C497.07,295.86 497.71,295.61 498.36,295.35 C499.02,295.1 499.69,294.83 500.38,294.56 C501.08,294.29 501.79,294.01 502.52,293.72 C503.25,293.43 504.01,293.13 504.78,292.83 C505.55,292.53 506.34,292.21 507.15,291.9 C507.96,291.58 508.79,291.25 509.64,290.92 C510.49,290.59 511.35,290.26 512.24,289.91 C513.12,289.57 514.03,289.23 514.95,288.87 C515.87,288.52 516.82,288.17 517.77,287.81 C518.73,287.45 519.71,287.08 520.71,286.72 C521.7,286.35 522.72,285.99 523.75,285.62 C524.78,285.25 525.83,284.88 526.9,284.51 C527.96,284.14 529.05,283.77 530.15,283.4 C531.25,283.03 532.38,282.66 533.51,282.29 C534.65,281.92 535.81,281.55 536.98,281.19 C538.15,280.83 539.34,280.47 540.55,280.11 C541.76,279.75 542.98,279.39 544.22,279.04 C545.47,278.69 546.73,278.34 548,278 C549.28,277.65 550.57,277.31 551.88,276.97 C553.19,276.64 554.52,276.3 555.86,275.97 C557.2,275.64 558.57,275.31 559.94,274.99 C561.32,274.66 562.71,274.34 564.12,274.02 C565.53,273.7 566.96,273.39 568.4,273.07 C569.85,272.75 571.31,272.44 572.78,272.12 C574.26,271.8 575.75,271.49 577.26,271.17 C578.77,270.85 580.3,270.53 581.84,270.21 C583.38,269.89 584.94,269.56 586.51,269.23 C588.09,268.9 589.68,268.57 591.28,268.23 C592.89,267.89 594.51,267.54 596.15,267.19 C597.79,266.84 599.44,266.48 601.11,266.12 C602.78,265.76 604.47,265.39 606.17,265.01 C607.87,264.64 609.59,264.26 611.32,263.87 C613.06,263.49 614.81,263.1 616.57,262.72 C618.34,262.33 620.12,261.94 621.91,261.56 C623.71,261.18 625.52,260.8 627.35,260.44 C629.18,260.07 631.02,259.72 632.88,259.39 C634.74,259.07 637.56,258.65 638.5,258.5" fill="none" stroke="#000000" stroke-width="2.25" stroke-linejoin="round"/>
<path d="M482,302.2 C482.02,302.07 482.06,301.66 482.14,301.42 C482.21,301.18 482.33,300.97 482.47,300.76 C482.61,300.54 482.78,300.33 482.98,300.12 C483.17,299.91 483.4,299.71 483.64,299.5 C483.89,299.3 484.16,299.1 484.45,298.89 C484.75,298.69 485.07,298.48 485.41,298.27 C485.75,298.06 486.11,297.85 486.5,297.64 C486.88,297.42 487.29,297.2 487.72,296.98 C488.15,296.75 488.6,296.52 489.07,296.29 C489.54,296.05 490.03,295.81 490.54,295.55 C491.06,295.3 491.59,295.04 492.14,294.78 C492.7,294.51 493.27,294.23 493.86,293.94 C494.46,293.65 495.07,293.36 495.7,293.05 C496.33,292.74 496.99,292.42 497.66,292.09 C498.33,291.75 499.02,291.41 499.73,291.05 C500.44,290.7 501.17,290.33 501.91,289.94 C502.66,289.56 503.42,289.16 504.21,288.76 C504.99,288.35 505.79,287.92 506.61,287.49 C507.44,287.05 508.27,286.6 509.13,286.14 C509.99,285.67 510.86,285.19 511.76,284.7 C512.65,284.21 513.56,283.71 514.49,283.19 C515.41,282.67 516.36,282.14 517.32,281.6 C518.29,281.06 519.27,280.5 520.27,279.93 C521.26,279.37 522.28,278.79 523.31,278.2 C524.35,277.61 525.4,277 526.46,276.39 C527.53,275.78 528.61,275.16 529.72,274.53 C530.82,273.9 531.93,273.26 533.07,272.61 C534.2,271.96 535.36,271.31 536.52,270.65 C537.69,269.99 538.88,269.32 540.08,268.64 C541.28,267.97 542.5,267.29 543.73,266.61 C544.97,265.93 546.22,265.24 547.49,264.55 C548.75,263.86 550.04,263.16 551.34,262.47 C552.64,261.78 553.96,261.08 555.29,260.38 C556.62,259.68 557.97,258.98 559.33,258.28 C560.7,257.59 562.08,256.89 563.48,256.19 C564.87,255.49 566.29,254.79 567.71,254.09 C569.14,253.39 570.59,252.69 572.05,252 C573.51,251.3 574.98,250.6 576.48,249.9 C577.97,249.21 579.47,248.51 581,247.81 C582.52,247.11 584.06,246.41 585.61,245.71 C587.17,245 588.74,244.3 590.32,243.59 C591.91,242.88 593.51,242.16 595.12,241.44 C596.74,240.71 598.37,239.99 600.02,239.24 C601.67,238.5 603.33,237.75 605,236.98 C606.68,236.21 608.37,235.43 610.08,234.62 C611.79,233.82 613.51,233 615.25,232.14 C616.99,231.29 618.74,230.42 620.51,229.51 C622.28,228.6 624.06,227.66 625.86,226.68 C627.66,225.69 630.39,224.11 631.3,223.6" fill="none" stroke="#ff0000" stroke-width="2.25" stroke-linejoin="round"/>
<path d="M484.8,302.2 C484.83,302.11 484.88,301.85 485,301.67 C485.11,301.48 485.28,301.29 485.48,301.09 C485.69,300.88 485.94,300.67 486.22,300.44 C486.5,300.21 486.83,299.97 487.18,299.71 C487.54,299.46 487.94,299.19 488.36,298.91 C488.79,298.64 489.25,298.35 489.75,298.04 C490.24,297.74 490.77,297.43 491.33,297.1 C491.89,296.77 492.48,296.44 493.1,296.09 C493.73,295.74 494.38,295.38 495.06,295.01 C495.75,294.63 496.46,294.25 497.21,293.86 C497.95,293.46 498.73,293.06 499.53,292.64 C500.33,292.23 501.17,291.8 502.03,291.36 C502.89,290.93 503.78,290.48 504.7,290.03 C505.62,289.58 506.56,289.11 507.54,288.64 C508.51,288.17 509.51,287.69 510.54,287.2 C511.57,286.71 512.63,286.22 513.71,285.71 C514.8,285.21 515.91,284.7 517.05,284.19 C518.19,283.67 519.35,283.15 520.54,282.63 C521.73,282.1 522.95,281.57 524.2,281.04 C525.44,280.5 526.71,279.96 528.01,279.42 C529.3,278.88 530.63,278.33 531.97,277.79 C533.32,277.24 534.7,276.69 536.09,276.14 C537.49,275.59 538.92,275.04 540.37,274.48 C541.82,273.93 543.29,273.37 544.79,272.82 C546.29,272.26 547.82,271.71 549.37,271.15 C550.91,270.59 552.49,270.03 554.09,269.47 C555.69,268.91 557.31,268.35 558.96,267.79 C560.61,267.22 562.28,266.66 563.98,266.09 C565.67,265.52 567.39,264.95 569.14,264.38 C570.88,263.8 572.65,263.22 574.44,262.64 C576.24,262.05 578.05,261.46 579.89,260.86 C581.74,260.26 583.6,259.65 585.49,259.04 C587.38,258.42 589.29,257.79 591.22,257.14 C593.16,256.5 595.12,255.85 597.1,255.17 C599.08,254.5 601.08,253.81 603.11,253.1 C605.14,252.38 607.19,251.66 609.27,250.9 C611.34,250.14 613.44,249.36 615.56,248.56 C617.68,247.75 619.82,246.92 621.99,246.05 C624.15,245.18 626.34,244.29 628.55,243.36 C630.77,242.43 633,241.47 635.26,240.47 C637.51,239.47 639.79,238.43 642.1,237.36 C644.4,236.28 646.72,235.17 649.07,234.03 C651.42,232.88 653.78,231.7 656.18,230.48 C658.57,229.26 660.98,228 663.42,226.72 C665.85,225.44 668.31,224.12 670.79,222.78 C673.27,221.45 675.77,220.08 678.3,218.71 C680.82,217.35 683.36,215.95 685.93,214.57 C688.5,213.2 691.09,211.81 693.7,210.46 C696.31,209.12 700.28,207.16 701.6,206.5" fill="none" stroke="#0000ff" stroke-width="2.25" stroke-linejoin="round"/>
<path d="M485.8,302.1 C485.84,302.03 485.91,301.83 486.05,301.67 C486.2,301.5 486.41,301.32 486.67,301.11 C486.93,300.91 487.25,300.69 487.61,300.44 C487.97,300.2 488.38,299.94 488.83,299.66 C489.29,299.38 489.79,299.08 490.33,298.77 C490.88,298.46 491.47,298.13 492.1,297.79 C492.73,297.45 493.4,297.09 494.11,296.72 C494.82,296.35 495.58,295.97 496.37,295.58 C497.16,295.18 497.99,294.78 498.86,294.36 C499.73,293.94 500.64,293.51 501.59,293.07 C502.54,292.64 503.52,292.19 504.55,291.73 C505.57,291.28 506.63,290.81 507.72,290.34 C508.82,289.87 509.95,289.38 511.12,288.9 C512.29,288.41 513.5,287.91 514.74,287.41 C515.98,286.91 517.25,286.41 518.56,285.89 C519.87,285.38 521.22,284.86 522.6,284.34 C523.98,283.81 525.39,283.28 526.84,282.75 C528.29,282.22 529.77,281.68 531.29,281.13 C532.8,280.59 534.35,280.04 535.94,279.49 C537.52,278.94 539.14,278.38 540.79,277.82 C542.44,277.25 544.12,276.69 545.83,276.11 C547.55,275.54 549.3,274.97 551.08,274.38 C552.86,273.8 554.67,273.22 556.51,272.62 C558.36,272.03 560.24,271.43 562.14,270.83 C564.05,270.22 565.99,269.61 567.97,269 C569.94,268.38 571.94,267.76 573.98,267.12 C576.01,266.49 578.08,265.85 580.17,265.2 C582.27,264.56 584.4,263.9 586.56,263.23 C588.72,262.57 590.91,261.89 593.13,261.21 C595.35,260.52 597.6,259.83 599.88,259.12 C602.16,258.41 604.48,257.69 606.82,256.96 C609.16,256.23 611.53,255.49 613.94,254.73 C616.34,253.97 618.77,253.2 621.23,252.41 C623.7,251.62 626.19,250.82 628.71,250 C631.23,249.18 633.78,248.35 636.36,247.5 C638.95,246.64 641.56,245.78 644.2,244.89 C646.84,244 649.5,243.09 652.2,242.16 C654.9,241.23 657.63,240.29 660.39,239.32 C663.14,238.35 665.93,237.36 668.74,236.34 C671.56,235.33 674.4,234.29 677.27,233.23 C680.14,232.17 683.05,231.08 685.97,229.97 C688.9,228.85 691.86,227.72 694.85,226.55 C697.84,225.38 700.85,224.19 703.89,222.96 C706.94,221.73 710.01,220.48 713.11,219.19 C716.21,217.9 719.33,216.58 722.49,215.22 C725.65,213.86 728.83,212.47 732.04,211.04 C735.25,209.6 738.49,208.14 741.76,206.62 C745.03,205.11 748.32,203.56 751.65,201.95 C754.97,200.35 760.02,197.82 761.7,197" fill="none" stroke="#ff00ff" stroke-width="2.25" stroke-linejoin="round"/>
<path d="M493.9,302.1 C493.95,301.94 494.02,301.44 494.18,301.12 C494.34,300.79 494.58,300.49 494.87,300.17 C495.16,299.84 495.51,299.51 495.91,299.18 C496.31,298.84 496.77,298.5 497.27,298.15 C497.78,297.8 498.34,297.44 498.94,297.08 C499.55,296.71 500.2,296.34 500.9,295.96 C501.6,295.58 502.35,295.19 503.14,294.8 C503.93,294.41 504.77,294.01 505.65,293.61 C506.53,293.2 507.45,292.79 508.42,292.38 C509.39,291.96 510.4,291.54 511.45,291.11 C512.51,290.69 513.6,290.25 514.74,289.82 C515.87,289.38 517.05,288.94 518.27,288.49 C519.49,288.04 520.75,287.59 522.05,287.14 C523.35,286.68 524.69,286.22 526.07,285.75 C527.44,285.29 528.86,284.82 530.32,284.35 C531.78,283.87 533.27,283.39 534.81,282.91 C536.34,282.43 537.91,281.94 539.52,281.44 C541.13,280.95 542.78,280.45 544.47,279.95 C546.15,279.45 547.87,278.94 549.63,278.43 C551.39,277.91 553.19,277.39 555.02,276.87 C556.86,276.34 558.73,275.81 560.64,275.27 C562.54,274.73 564.49,274.19 566.46,273.64 C568.44,273.09 570.46,272.53 572.51,271.96 C574.56,271.39 576.65,270.82 578.77,270.23 C580.89,269.65 583.05,269.06 585.24,268.46 C587.43,267.85 589.66,267.24 591.92,266.62 C594.18,266 596.48,265.37 598.81,264.72 C601.14,264.08 603.51,263.43 605.91,262.76 C608.31,262.09 610.74,261.41 613.21,260.72 C615.68,260.03 618.18,259.32 620.72,258.6 C623.25,257.88 625.82,257.15 628.43,256.4 C631.03,255.65 633.67,254.89 636.34,254.1 C639.01,253.32 641.71,252.53 644.45,251.71 C647.19,250.9 649.96,250.06 652.76,249.21 C655.57,248.36 658.4,247.49 661.27,246.6 C664.14,245.71 667.04,244.81 669.98,243.88 C672.91,242.94 675.88,241.99 678.88,241.02 C681.88,240.04 684.91,239.05 687.98,238.02 C691.04,237 694.14,235.95 697.27,234.88 C700.39,233.8 703.55,232.7 706.75,231.57 C709.94,230.44 713.17,229.28 716.42,228.09 C719.68,226.9 722.97,225.67 726.29,224.41 C729.61,223.15 732.96,221.85 736.34,220.51 C739.72,219.17 743.14,217.8 746.58,216.37 C750.03,214.94 753.51,213.48 757.01,211.95 C760.52,210.43 764.06,208.85 767.63,207.22 C771.2,205.58 774.8,203.89 778.44,202.12 C782.07,200.35 785.73,198.52 789.43,196.6 C793.12,194.68 798.74,191.59 800.6,190.59" fill="none" stroke="#008000" stroke-width="2.25" stroke-linejoin="round"/>
<path d="M484.2,302.2 C484.22,302.15 484.26,302.01 484.34,301.92 C484.42,301.83 484.54,301.74 484.69,301.66 C484.83,301.57 485.01,301.48 485.21,301.39 C485.41,301.3 485.64,301.21 485.9,301.12 C486.15,301.03 486.43,300.93 486.73,300.84 C487.04,300.75 487.37,300.65 487.72,300.55 C488.07,300.46 488.45,300.36 488.84,300.26 C489.24,300.16 489.66,300.06 490.11,299.96 C490.55,299.86 491.01,299.76 491.5,299.65 C491.99,299.55 492.5,299.45 493.03,299.34 C493.55,299.23 494.11,299.13 494.68,299.02 C495.25,298.91 495.84,298.8 496.45,298.69 C497.07,298.58 497.7,298.47 498.35,298.36 C499.01,298.25 499.68,298.14 500.37,298.02 C501.06,297.91 501.78,297.79 502.51,297.68 C503.24,297.57 503.99,297.45 504.77,297.33 C505.54,297.22 506.33,297.1 507.14,296.98 C507.95,296.87 508.78,296.75 509.62,296.63 C510.47,296.51 511.34,296.39 512.22,296.27 C513.11,296.15 514.01,296.03 514.93,295.91 C515.85,295.79 516.79,295.67 517.75,295.55 C518.71,295.43 519.69,295.31 520.68,295.19 C521.68,295.07 522.69,294.95 523.72,294.82 C524.75,294.7 525.8,294.58 526.87,294.46 C527.94,294.34 529.02,294.22 530.12,294.09 C531.22,293.97 532.34,293.85 533.48,293.73 C534.62,293.61 535.77,293.48 536.95,293.36 C538.12,293.24 539.31,293.12 540.51,293 C541.72,292.88 542.94,292.75 544.19,292.63 C545.43,292.51 546.69,292.39 547.96,292.27 C549.24,292.15 550.53,292.03 551.84,291.91 C553.15,291.79 554.47,291.67 555.81,291.55 C557.16,291.43 558.52,291.31 559.89,291.19 C561.27,291.07 562.66,290.95 564.07,290.84 C565.48,290.72 566.91,290.6 568.35,290.48 C569.79,290.37 571.25,290.25 572.73,290.13 C574.2,290.01 575.69,289.9 577.2,289.78 C578.71,289.67 580.24,289.55 581.78,289.43 C583.32,289.32 584.87,289.2 586.45,289.09 C588.02,288.97 589.61,288.86 591.21,288.75 C592.82,288.63 594.44,288.52 596.08,288.41 C597.71,288.29 599.37,288.18 601.04,288.07 C602.71,287.95 604.39,287.84 606.09,287.73 C607.79,287.61 609.51,287.5 611.24,287.39 C612.97,287.28 614.72,287.17 616.49,287.05 C618.25,286.94 620.03,286.83 621.82,286.72 C623.62,286.6 625.43,286.49 627.26,286.38 C629.08,286.27 630.92,286.15 632.78,286.04 C634.64,285.93 637.46,285.76 638.4,285.7" fill="none" stroke="#000000" stroke-width="2.1" stroke-linejoin="round" stroke-dasharray="4.2 2.5" stroke-dashoffset="0"/>
<path d="M482,302.2 C482.02,302.16 482.06,302.04 482.14,301.95 C482.21,301.86 482.33,301.75 482.47,301.64 C482.61,301.52 482.78,301.4 482.98,301.26 C483.17,301.12 483.4,300.98 483.64,300.82 C483.89,300.67 484.16,300.5 484.45,300.33 C484.75,300.15 485.07,299.97 485.41,299.78 C485.75,299.59 486.11,299.38 486.5,299.18 C486.88,298.97 487.29,298.75 487.72,298.53 C488.15,298.31 488.6,298.08 489.07,297.84 C489.54,297.61 490.03,297.37 490.54,297.12 C491.06,296.87 491.59,296.61 492.14,296.36 C492.7,296.1 493.27,295.83 493.86,295.56 C494.46,295.29 495.07,295.02 495.7,294.74 C496.33,294.46 496.99,294.18 497.66,293.89 C498.33,293.6 499.02,293.31 499.73,293.02 C500.44,292.73 501.17,292.43 501.91,292.13 C502.66,291.84 503.42,291.53 504.21,291.23 C504.99,290.93 505.79,290.62 506.61,290.32 C507.44,290.01 508.27,289.7 509.13,289.39 C509.99,289.09 510.86,288.78 511.76,288.47 C512.65,288.16 513.56,287.85 514.49,287.54 C515.41,287.23 516.36,286.92 517.32,286.61 C518.29,286.3 519.27,285.99 520.27,285.68 C521.26,285.37 522.28,285.06 523.31,284.76 C524.35,284.45 525.4,284.15 526.46,283.84 C527.53,283.54 528.61,283.24 529.72,282.94 C530.82,282.64 531.93,282.34 533.07,282.05 C534.2,281.75 535.36,281.46 536.52,281.17 C537.69,280.87 538.88,280.59 540.08,280.3 C541.28,280.01 542.5,279.73 543.73,279.45 C544.97,279.17 546.22,278.89 547.49,278.62 C548.75,278.34 550.04,278.07 551.34,277.8 C552.64,277.53 553.96,277.26 555.29,277 C556.62,276.73 557.97,276.47 559.33,276.21 C560.7,275.95 562.08,275.7 563.48,275.44 C564.87,275.19 566.29,274.94 567.71,274.69 C569.14,274.44 570.59,274.19 572.05,273.95 C573.51,273.7 574.98,273.46 576.48,273.21 C577.97,272.97 579.47,272.73 581,272.49 C582.52,272.25 584.06,272.01 585.61,271.77 C587.17,271.53 588.74,271.29 590.32,271.05 C591.91,270.81 593.51,270.57 595.12,270.33 C596.74,270.09 598.37,269.84 600.02,269.6 C601.67,269.35 603.33,269.11 605,268.85 C606.68,268.6 608.37,268.35 610.08,268.09 C611.79,267.83 613.51,267.57 615.25,267.3 C616.99,267.03 618.74,266.76 620.51,266.48 C622.28,266.2 624.06,265.91 625.86,265.62 C627.66,265.32 630.39,264.85 631.3,264.7" fill="none" stroke="#ff0000" stroke-width="2.1" stroke-linejoin="round" stroke-dasharray="4.2 2.5" stroke-dashoffset="2.7"/>
<path d="M484.8,302.2 C484.83,302.12 484.88,301.88 485,301.71 C485.11,301.53 485.28,301.34 485.48,301.13 C485.69,300.93 485.94,300.71 486.22,300.47 C486.5,300.24 486.83,299.99 487.18,299.73 C487.54,299.47 487.94,299.2 488.36,298.92 C488.79,298.63 489.25,298.34 489.75,298.04 C490.24,297.73 490.77,297.42 491.33,297.1 C491.89,296.78 492.48,296.45 493.1,296.12 C493.73,295.79 494.38,295.45 495.06,295.1 C495.75,294.76 496.46,294.41 497.21,294.05 C497.95,293.7 498.73,293.34 499.53,292.98 C500.33,292.62 501.17,292.26 502.03,291.9 C502.89,291.53 503.78,291.17 504.7,290.8 C505.62,290.44 506.56,290.07 507.54,289.7 C508.51,289.34 509.51,288.97 510.54,288.61 C511.57,288.24 512.63,287.87 513.71,287.51 C514.8,287.15 515.91,286.78 517.05,286.42 C518.19,286.06 519.35,285.7 520.54,285.34 C521.73,284.98 522.95,284.63 524.2,284.27 C525.44,283.91 526.71,283.56 528.01,283.2 C529.3,282.85 530.63,282.49 531.97,282.14 C533.32,281.79 534.7,281.43 536.09,281.08 C537.49,280.73 538.92,280.38 540.37,280.02 C541.82,279.67 543.29,279.31 544.79,278.96 C546.29,278.6 547.82,278.24 549.37,277.88 C550.91,277.53 552.49,277.16 554.09,276.8 C555.69,276.44 557.31,276.07 558.96,275.7 C560.61,275.33 562.28,274.96 563.98,274.58 C565.67,274.2 567.39,273.82 569.14,273.43 C570.88,273.05 572.65,272.65 574.44,272.26 C576.24,271.86 578.05,271.46 579.89,271.06 C581.74,270.65 583.6,270.24 585.49,269.82 C587.38,269.41 589.29,268.99 591.22,268.56 C593.16,268.14 595.12,267.7 597.1,267.27 C599.08,266.83 601.08,266.39 603.11,265.95 C605.14,265.5 607.19,265.05 609.27,264.6 C611.34,264.15 613.44,263.69 615.56,263.24 C617.68,262.78 619.82,262.32 621.99,261.85 C624.15,261.39 626.34,260.93 628.55,260.46 C630.77,260 633,259.53 635.26,259.07 C637.51,258.6 639.79,258.14 642.1,257.67 C644.4,257.21 646.72,256.74 649.07,256.28 C651.42,255.82 653.78,255.36 656.18,254.9 C658.57,254.44 660.98,253.98 663.42,253.52 C665.85,253.06 668.31,252.61 670.79,252.15 C673.27,251.69 675.77,251.23 678.3,250.76 C680.82,250.29 683.36,249.83 685.93,249.34 C688.5,248.86 691.09,248.38 693.7,247.87 C696.31,247.36 700.28,246.56 701.6,246.3" fill="none" stroke="#0000ff" stroke-width="2.1" stroke-linejoin="round" stroke-dasharray="4.2 2.5" stroke-dashoffset="5.4"/>
<path d="M485.8,302.1 C485.84,302.01 485.91,301.75 486.05,301.58 C486.2,301.41 486.41,301.25 486.67,301.08 C486.93,300.91 487.25,300.74 487.61,300.56 C487.97,300.38 488.38,300.19 488.83,300 C489.29,299.81 489.79,299.62 490.33,299.41 C490.88,299.21 491.47,299 492.1,298.79 C492.73,298.58 493.4,298.36 494.11,298.13 C494.82,297.9 495.58,297.66 496.37,297.42 C497.16,297.18 497.99,296.93 498.86,296.67 C499.73,296.42 500.64,296.15 501.59,295.88 C502.54,295.61 503.52,295.33 504.55,295.04 C505.57,294.75 506.63,294.45 507.72,294.15 C508.82,293.84 509.95,293.53 511.12,293.21 C512.29,292.89 513.5,292.55 514.74,292.22 C515.98,291.88 517.25,291.53 518.56,291.18 C519.87,290.82 521.22,290.46 522.6,290.09 C523.98,289.72 525.39,289.34 526.84,288.95 C528.29,288.57 529.77,288.17 531.29,287.77 C532.8,287.37 534.35,286.96 535.94,286.55 C537.52,286.13 539.14,285.71 540.79,285.28 C542.44,284.86 544.12,284.42 545.83,283.98 C547.55,283.54 549.3,283.1 551.08,282.65 C552.86,282.2 554.67,281.74 556.51,281.28 C558.36,280.82 560.24,280.36 562.14,279.89 C564.05,279.42 565.99,278.95 567.97,278.48 C569.94,278 571.94,277.52 573.98,277.04 C576.01,276.56 578.08,276.08 580.17,275.59 C582.27,275.11 584.4,274.62 586.56,274.13 C588.72,273.64 590.91,273.15 593.13,272.66 C595.35,272.16 597.6,271.67 599.88,271.17 C602.16,270.68 604.48,270.18 606.82,269.68 C609.16,269.18 611.53,268.68 613.94,268.18 C616.34,267.68 618.77,267.17 621.23,266.67 C623.7,266.16 626.19,265.65 628.71,265.14 C631.23,264.63 633.78,264.12 636.36,263.61 C638.95,263.09 641.56,262.57 644.2,262.05 C646.84,261.53 649.5,261 652.2,260.47 C654.9,259.94 657.63,259.4 660.39,258.86 C663.14,258.32 665.93,257.77 668.74,257.22 C671.56,256.66 674.4,256.1 677.27,255.54 C680.14,254.97 683.05,254.39 685.97,253.81 C688.9,253.23 691.86,252.64 694.85,252.04 C697.84,251.44 700.85,250.83 703.89,250.22 C706.94,249.6 710.01,248.98 713.11,248.35 C716.21,247.72 719.33,247.09 722.49,246.44 C725.65,245.8 728.83,245.15 732.04,244.5 C735.25,243.85 738.49,243.2 741.76,242.55 C745.03,241.9 748.32,241.24 751.65,240.6 C754.97,239.96 760.02,239.02 761.7,238.7" fill="none" stroke="#ff00ff" stroke-width="2.1" stroke-linejoin="round" stroke-dasharray="4.2 2.5" stroke-dashoffset="8.1"/>
<path d="M493.9,302.1 C493.95,302.07 494.02,301.99 494.18,301.91 C494.34,301.83 494.58,301.74 494.87,301.63 C495.16,301.52 495.51,301.4 495.91,301.26 C496.31,301.12 496.77,300.97 497.27,300.81 C497.78,300.65 498.34,300.47 498.94,300.28 C499.55,300.09 500.2,299.89 500.9,299.68 C501.6,299.47 502.35,299.24 503.14,299.01 C503.93,298.77 504.77,298.53 505.65,298.27 C506.53,298.02 507.45,297.75 508.42,297.48 C509.39,297.2 510.4,296.91 511.45,296.62 C512.51,296.32 513.6,296.02 514.74,295.71 C515.87,295.39 517.05,295.07 518.27,294.74 C519.49,294.41 520.75,294.07 522.05,293.73 C523.35,293.38 524.69,293.02 526.07,292.66 C527.44,292.3 528.86,291.93 530.32,291.56 C531.78,291.18 533.27,290.8 534.81,290.42 C536.34,290.03 537.91,289.63 539.52,289.23 C541.13,288.84 542.78,288.43 544.47,288.02 C546.15,287.61 547.87,287.19 549.63,286.77 C551.39,286.36 553.19,285.93 555.02,285.5 C556.86,285.07 558.73,284.64 560.64,284.21 C562.54,283.77 564.49,283.33 566.46,282.89 C568.44,282.44 570.46,282 572.51,281.55 C574.56,281.1 576.65,280.65 578.77,280.19 C580.89,279.74 583.05,279.28 585.24,278.82 C587.43,278.36 589.66,277.9 591.92,277.44 C594.18,276.97 596.48,276.51 598.81,276.04 C601.14,275.57 603.51,275.1 605.91,274.63 C608.31,274.16 610.74,273.69 613.21,273.21 C615.68,272.74 618.18,272.26 620.72,271.78 C623.25,271.3 625.82,270.82 628.43,270.34 C631.03,269.85 633.67,269.37 636.34,268.88 C639.01,268.39 641.71,267.9 644.45,267.41 C647.19,266.91 649.96,266.41 652.76,265.91 C655.57,265.41 658.4,264.91 661.27,264.4 C664.14,263.89 667.04,263.38 669.98,262.86 C672.91,262.34 675.88,261.82 678.88,261.29 C681.88,260.77 684.91,260.23 687.98,259.7 C691.04,259.16 694.14,258.61 697.27,258.06 C700.39,257.51 703.55,256.95 706.75,256.38 C709.94,255.81 713.17,255.24 716.42,254.66 C719.68,254.07 722.97,253.48 726.29,252.88 C729.61,252.28 732.96,251.67 736.34,251.06 C739.72,250.44 743.14,249.81 746.58,249.17 C750.03,248.54 753.51,247.89 757.01,247.24 C760.52,246.58 764.06,245.92 767.63,245.25 C771.2,244.57 774.8,243.89 778.44,243.2 C782.07,242.52 785.73,241.82 789.43,241.12 C793.12,240.42 798.74,239.35 800.6,239" fill="none" stroke="#008000" stroke-width="2.1" stroke-linejoin="round" stroke-dasharray="4.2 2.5" stroke-dashoffset="10.8"/>
<circle cx="484.2" cy="302.2" r="3.1" fill="#000000"/>
<rect x="635.7" y="255.7" width="5.6" height="5.6" fill="#000000"/>
<rect x="635.6" y="282.9" width="5.6" height="5.6" fill="#000000"/>
<circle cx="482" cy="302.2" r="3.1" fill="#ff0000"/>
<rect x="628.5" y="220.8" width="5.6" height="5.6" fill="#ff0000"/>
<rect x="628.5" y="261.9" width="5.6" height="5.6" fill="#ff0000"/>
<circle cx="484.8" cy="302.2" r="3.1" fill="#0000ff"/>
<rect x="698.8" y="203.7" width="5.6" height="5.6" fill="#0000ff"/>
<rect x="698.8" y="243.5" width="5.6" height="5.6" fill="#0000ff"/>
<circle cx="485.8" cy="302.1" r="3.1" fill="#ff00ff"/>
<rect x="758.9" y="194.2" width="5.6" height="5.6" fill="#ff00ff"/>
<rect x="758.9" y="235.9" width="5.6" height="5.6" fill="#ff00ff"/>
<circle cx="493.9" cy="302.1" r="3.1" fill="#008000"/>
<rect x="797.8" y="187.79" width="5.6" height="5.6" fill="#008000"/>
<rect x="797.8" y="236.2" width="5.6" height="5.6" fill="#008000"/>
<path d="M504.4,277 L520.53,265.54" stroke="#000" stroke-width="0.75"/>
<path d="M525.1,262.3 L520.73,267.55 L518.71,264.69 Z" fill="#000"/>
<text x="507.8" y="265.5" font-size="12.5" font-style="italic" text-anchor="middle">h</text>
<rect x="480.1" y="189.1" width="107.4" height="47" fill="#fff" stroke="#333" stroke-width="0.8"/>
<path d="M484.4,196.7 H513.1" stroke="#000000" stroke-width="1.7"/>
<text x="516.8" y="200.3" font-size="12.5" xml:space="preserve"><tspan font-style="italic">w</tspan> = 100 nm</text>
<path d="M484.4,211.9 H513.1" stroke="#ff0000" stroke-width="1.7"/>
<text x="516.8" y="215.5" font-size="12.5" xml:space="preserve"><tspan font-style="italic">w</tspan> = 200 nm</text>
<path d="M484.4,227.1 H513.1" stroke="#0000ff" stroke-width="1.7"/>
<text x="516.8" y="230.7" font-size="12.5" xml:space="preserve"><tspan font-style="italic">w</tspan> = 300 nm</text>
<rect x="706.3" y="263.1" width="105.3" height="33.3" fill="#fff" stroke="#333" stroke-width="0.8"/>
<path d="M709.8,271.6 H738.9" stroke="#ff00ff" stroke-width="1.7"/>
<text x="741.8" y="275.3" font-size="12.5" xml:space="preserve"><tspan font-style="italic">w</tspan> = 400 nm</text>
<path d="M709.8,286.8 H738.9" stroke="#008000" stroke-width="1.7"/>
<text x="741.8" y="290.7" font-size="12.5" xml:space="preserve"><tspan font-style="italic">w</tspan> = 500 nm</text>
<g transform="translate(437.3,295.6) rotate(-90)">
<text x="0" y="0" font-size="12.0" xml:space="preserve"><tspan font-style="italic">k</tspan><tspan font-size="7.8" dy="4.0">0</tspan><tspan dy="-4.0" font-size="1">&#8203;</tspan><tspan dx="-1.8"> /</tspan> <tspan font-style="italic" dx="1.0">g</tspan><tspan font-size="7.8" dy="4.0">th</tspan><tspan dy="-4.0" font-size="1">&#8203;</tspan><tspan dx="-0.2"> or </tspan></text>
<path transform="translate(50.4,0) rotate(0) scale(1.0)" d="M1.7,-4.9 C0.5,-5.5 0.3,-6.9 1.7,-7.2 C3.0,-7.5 5.5,-7.1 8.0,-7.8 M5.1,-7.2 C4.8,-5.4 4.0,-2.4 3.2,-0.9 C2.7,0.1 1.8,0.3 1.3,-0.4 M2.2,-3.7 L6.9,-4.1" fill="none" stroke="#000" stroke-width="0.85" stroke-linecap="round"/>
<text x="58" y="0" font-size="12.0" xml:space="preserve"> / <tspan font-family="Liberation Serif">&#916;</tspan><tspan font-style="italic">n</tspan><tspan font-size="7.8" dy="4.0">max</tspan><tspan dy="-4.0" font-size="1">&#8203;</tspan></text>
</g>
<text x="645.4" y="333.4" font-size="12.2" text-anchor="middle" xml:space="preserve"><tspan font-style="italic">A</tspan><tspan font-size="7.8" dy="4.0">eff</tspan><tspan dy="-4.0" font-size="1">&#8203;</tspan><tspan dx="-0.6"> /</tspan> <tspan font-style="italic" dx="1.6">A</tspan><tspan font-size="7.8" dy="4.0">0</tspan><tspan dy="-4.0" font-size="1">&#8203;</tspan></text>
<text x="414" y="189.1" font-size="19.3" letter-spacing="-0.15" style="stroke-width:0.12px">(d)</text>
</svg></body></html>
